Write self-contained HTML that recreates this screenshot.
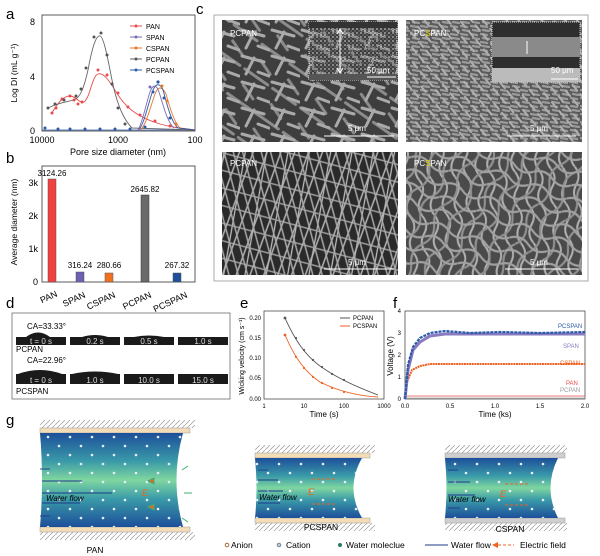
<!DOCTYPE html>
<html><head><meta charset="utf-8"><style>
html,body{margin:0;padding:0;background:#fff;width:600px;height:556px;overflow:hidden}
svg{display:block;font-family:"Liberation Sans",sans-serif}
</style></head><body>
<svg width="600" height="556" viewBox="0 0 600 556" xmlns="http://www.w3.org/2000/svg">
<defs>
<linearGradient id="ch" x1="0" y1="0" x2="0" y2="1">
<stop offset="0" stop-color="#1d4f9a"/><stop offset="0.3" stop-color="#3a9aa8"/><stop offset="0.5" stop-color="#7fd6a0"/><stop offset="0.7" stop-color="#3a9aa8"/><stop offset="1" stop-color="#1d4f9a"/></linearGradient>
<pattern id="hat" width="5" height="5" patternUnits="userSpaceOnUse"><path d="M0 5L5 0" stroke="#999" stroke-width="0.7"/></pattern>
<pattern id="dots" width="22" height="18" patternUnits="userSpaceOnUse"><circle cx="4" cy="5" r="1.3" fill="#e8eef8"/><circle cx="15" cy="14" r="1.3" fill="#e8eef8"/></pattern>
<pattern id="rods" width="30" height="26" patternUnits="userSpaceOnUse"><g stroke="#aaa" stroke-width="3" stroke-linecap="round"><path d="M2 4L24 10"/><path d="M6 22L14 6"/><path d="M18 20L29 24"/></g></pattern>
<pattern id="rods2" width="34" height="30" patternUnits="userSpaceOnUse" patternTransform="rotate(35)"><g stroke="#8c8c8c" stroke-width="3" stroke-linecap="round"><path d="M2 6L30 6"/><path d="M10 20L26 26"/></g></pattern>
<pattern id="short" width="10" height="8" patternUnits="userSpaceOnUse"><g stroke="#9a9a9a" stroke-width="2.4" stroke-linecap="round"><path d="M1 2L7 3"/><path d="M3 6L9 7"/></g></pattern>
<pattern id="short2" width="12" height="9" patternUnits="userSpaceOnUse" patternTransform="rotate(50)"><path d="M1 3L8 3" stroke="#b0b0b0" stroke-width="2" stroke-linecap="round"/></pattern>
<pattern id="ln1" width="200" height="9" patternUnits="userSpaceOnUse" patternTransform="rotate(75)"><path d="M0 3H200" stroke="#a8a8a8" stroke-width="1.6"/></pattern>
<pattern id="ln2" width="200" height="13" patternUnits="userSpaceOnUse" patternTransform="rotate(-70)"><path d="M0 4H200" stroke="#b4b4b4" stroke-width="1.5"/></pattern>
<pattern id="ln3" width="200" height="17" patternUnits="userSpaceOnUse" patternTransform="rotate(15)"><path d="M0 5H200" stroke="#9c9c9c" stroke-width="1.5"/></pattern>
<pattern id="ln4" width="200" height="21" patternUnits="userSpaceOnUse" patternTransform="rotate(100)"><path d="M0 5H200" stroke="#c0c0c0" stroke-width="1.3"/></pattern>
<pattern id="cv1" width="40" height="14" patternUnits="userSpaceOnUse" patternTransform="rotate(20)"><path d="M0 7 Q10 0 20 7 T40 7" fill="none" stroke="#a0a0a0" stroke-width="2.2"/></pattern>
<pattern id="cv2" width="46" height="16" patternUnits="userSpaceOnUse" patternTransform="rotate(-60)"><path d="M0 8 Q11 16 23 8 T46 8" fill="none" stroke="#909090" stroke-width="2.2"/></pattern>
<pattern id="cv3" width="36" height="12" patternUnits="userSpaceOnUse" patternTransform="rotate(85)"><path d="M0 6 Q9 0 18 6 T36 6" fill="none" stroke="#b0b0b0" stroke-width="2"/></pattern>
<pattern id="fine" width="4" height="4" patternUnits="userSpaceOnUse"><rect width="2" height="2" fill="#888"/><rect x="2" y="2" width="2" height="2" fill="#5a5a5a"/></pattern>
</defs>
<g font-size="11">
<text x="6" y="19" font-size="15">a</text>
<text x="6" y="163" font-size="15">b</text>
<text x="196" y="14" font-size="15">c</text>
<text x="6" y="308" font-size="15">d</text>
<text x="240" y="308" font-size="15">e</text>
<text x="393" y="308" font-size="15">f</text>
<text x="6" y="425" font-size="15">g</text>
</g>
<!-- panel a -->
<g font-size="8">
<rect x="42" y="15" width="153" height="116" fill="none" stroke="#333" stroke-width="0.8"/>
<text x="35" y="25" text-anchor="end" font-size="9">8</text><text x="35" y="80" text-anchor="end" font-size="9">4</text><text x="35" y="134" text-anchor="end" font-size="9">0</text>
<text x="42" y="143" text-anchor="middle" font-size="9">10000</text><text x="118" y="143" text-anchor="middle" font-size="9">1000</text><text x="195" y="143" text-anchor="middle" font-size="9">100</text>
<text x="118" y="155" text-anchor="middle" font-size="9">Pore size diameter (nm)</text>
<text transform="translate(17,73) rotate(-90)" text-anchor="middle" font-size="8.5">Log DI (mL g⁻¹)</text>
<path d="M42 130 L195 130" stroke="#3a5fb0" stroke-width="0.8"/>
<path d="M52 113 C58 102 64 96 70 96 C76 96 78 103 84 102 C90 98 92 76 98 74 C104 72 110 82 118 95 C128 110 140 118 160 124 C175 128 185 129 195 130" fill="none" stroke="#e74c4c" stroke-width="0.9"/>
<path d="M48 108 C58 103 66 102 74 100 C80 98 84 88 88 70 C92 48 96 35 100 36 C104 37 108 60 112 80 C116 100 122 118 132 128 L195 130" fill="none" stroke="#666" stroke-width="0.9"/>
<path d="M140 130 C146 126 150 108 155 94 C158 86 162 86 166 94 C170 108 174 122 180 128 L195 130" fill="none" stroke="#e8782a" stroke-width="0.9"/>
<path d="M138 130 C144 126 148 104 153 90 C156 83 160 83 163 90 C167 104 171 122 178 128 L195 130" fill="none" stroke="#2b5aa8" stroke-width="0.9"/>
<path d="M138 130 C142 124 146 104 150 92 C153 84 156 84 159 92 C163 104 167 122 174 128" fill="none" stroke="#7a6ab5" stroke-width="0.9"/>
<g fill="#e74c4c"><circle cx="52" cy="113" r="1.5"/><circle cx="56" cy="108" r="1.5"/><circle cx="62" cy="99" r="1.5"/><circle cx="70" cy="96" r="1.5"/><circle cx="74" cy="100" r="1.5"/><circle cx="78" cy="104" r="1.5"/><circle cx="82" cy="102" r="1.5"/><circle cx="98" cy="70" r="1.5"/><circle cx="107" cy="75" r="1.5"/><circle cx="118" cy="93" r="1.5"/><circle cx="128" cy="107" r="1.5"/><circle cx="140" cy="115" r="1.5"/><circle cx="155" cy="121" r="1.5"/><circle cx="170" cy="126" r="1.5"/></g>
<g fill="#555"><circle cx="48" cy="108" r="1.5"/><circle cx="55" cy="104" r="1.5"/><circle cx="64" cy="100" r="1.5"/><circle cx="76" cy="96" r="1.5"/><circle cx="81" cy="89" r="1.5"/><circle cx="86" cy="68" r="1.5"/><circle cx="94" cy="37" r="1.5"/><circle cx="101" cy="33" r="1.5"/><circle cx="107" cy="55" r="1.5"/><circle cx="112" cy="84" r="1.5"/><circle cx="118" cy="108" r="1.5"/><circle cx="125" cy="124" r="1.5"/></g>
<g fill="#2b5aa8"><circle cx="158" cy="82" r="1.6"/><circle cx="153" cy="92" r="1.5"/><circle cx="164" cy="98" r="1.5"/><circle cx="170" cy="118" r="1.5"/><circle cx="45" cy="128" r="1.5"/><circle cx="58" cy="129" r="1.5"/><circle cx="70" cy="129" r="1.5"/><circle cx="85" cy="129" r="1.5"/><circle cx="100" cy="129" r="1.5"/><circle cx="115" cy="129" r="1.5"/><circle cx="130" cy="129" r="1.5"/><circle cx="145" cy="127" r="1.5"/></g>
<g fill="#7a6ab5"><circle cx="150" cy="87" r="1.5"/></g><g fill="#e8782a"><circle cx="162" cy="86" r="1.5"/><circle cx="167" cy="101" r="1.5"/><circle cx="176" cy="124" r="1.5"/></g>
<g font-size="7"><line x1="130" y1="26" x2="142" y2="26" stroke="#e74c4c"/><circle cx="136" cy="26" r="1.5" fill="#e74c4c"/><text x="146" y="29">PAN</text>
<line x1="130" y1="37" x2="142" y2="37" stroke="#7a6ab5"/><circle cx="136" cy="37" r="1.5" fill="#7a6ab5"/><text x="146" y="40">SPAN</text>
<line x1="130" y1="48" x2="142" y2="48" stroke="#e8782a"/><circle cx="136" cy="48" r="1.5" fill="#e8782a"/><text x="146" y="51">CSPAN</text>
<line x1="130" y1="59" x2="142" y2="59" stroke="#666"/><circle cx="136" cy="59" r="1.5" fill="#555"/><text x="146" y="62">PCPAN</text>
<line x1="130" y1="70" x2="142" y2="70" stroke="#2b5aa8"/><circle cx="136" cy="70" r="1.5" fill="#2b5aa8"/><text x="146" y="73">PCSPAN</text></g>
</g>
<!-- panel b -->
<g font-size="8">
<rect x="42" y="166" width="153" height="116" fill="none" stroke="#333" stroke-width="0.8"/>
<text x="38" y="186" text-anchor="end" font-size="9">3k</text><text x="38" y="219" text-anchor="end" font-size="9">2k</text><text x="38" y="252" text-anchor="end" font-size="9">1k</text><text x="38" y="285" text-anchor="end" font-size="9">0</text>
<text transform="translate(17,222) rotate(-90)" text-anchor="middle" font-size="8.5">Average diameter (nm)</text>
<rect x="48" y="179" width="8" height="103" fill="#f04040" stroke="#555" stroke-width="0.5"/>
<rect x="76" y="272" width="8" height="10" fill="#6f5fb0" stroke="#555" stroke-width="0.5"/>
<rect x="105" y="273" width="8" height="9" fill="#f07020" stroke="#555" stroke-width="0.5"/>
<rect x="141" y="195" width="8" height="87" fill="#6a6a6a" stroke="#333" stroke-width="0.5"/>
<rect x="173" y="273" width="8" height="9" fill="#1d4f9a" stroke="#555" stroke-width="0.5"/>
<text x="52" y="176" text-anchor="middle">3124.26</text><text x="80" y="268" text-anchor="middle">316.24</text><text x="109" y="268" text-anchor="middle">280.66</text><text x="145" y="192" text-anchor="middle">2645.82</text><text x="177" y="268" text-anchor="middle">267.32</text>
<g font-size="9"><text transform="translate(58,296) rotate(-25)" text-anchor="end">PAN</text><text transform="translate(86,297) rotate(-25)" text-anchor="end">SPAN</text><text transform="translate(116,297) rotate(-25)" text-anchor="end">CSPAN</text><text transform="translate(152,297) rotate(-25)" text-anchor="end">PCPAN</text><text transform="translate(188,297) rotate(-25)" text-anchor="end">PCSPAN</text></g>
</g>
<!-- panel c -->
<rect x="214" y="15" width="374" height="266" fill="#fff" stroke="#aaa"/>
<rect x="222" y="20" width="176" height="122" fill="#3e3e3e"/>
<rect x="222" y="20" width="176" height="122" fill="url(#rods2)"/>
<rect x="222" y="20" width="176" height="122" fill="url(#rods)"/>
<rect x="406" y="20" width="176" height="122" fill="#5a5a5a"/>
<rect x="406" y="20" width="176" height="122" fill="url(#short)"/>
<rect x="406" y="20" width="176" height="122" fill="url(#short2)"/>
<rect x="222" y="152" width="176" height="123" fill="#2a2a2a"/>
<rect x="222" y="152" width="176" height="123" fill="url(#ln4)"/>
<rect x="222" y="152" width="176" height="123" fill="url(#ln3)"/>
<rect x="222" y="152" width="176" height="123" fill="url(#ln2)"/>
<rect x="222" y="152" width="176" height="123" fill="url(#ln1)"/>
<rect x="406" y="152" width="176" height="123" fill="#4a4a4a"/>
<rect x="406" y="152" width="176" height="123" fill="url(#cv3)"/>
<rect x="406" y="152" width="176" height="123" fill="url(#cv2)"/>
<rect x="406" y="152" width="176" height="123" fill="url(#cv1)"/>
<rect x="309" y="22" width="88" height="58" fill="url(#fine)" stroke="#ddd" stroke-dasharray="1 1"/>
<rect x="309" y="22" width="88" height="6" fill="#333"/><rect x="309" y="74" width="88" height="6" fill="#555"/>
<line x1="340" y1="30" x2="340" y2="72" stroke="#fff"/><path d="M337 34L340 29L343 34M337 68L340 73L343 68" fill="none" stroke="#fff"/>
<rect x="492" y="22" width="88" height="60" fill="#2e2e2e" stroke="#ddd" stroke-dasharray="1 1"/>
<rect x="492" y="37" width="88" height="20" fill="#8a8a8a"/><rect x="492" y="68" width="88" height="14" fill="#bbb"/>
<line x1="527" y1="41" x2="527" y2="54" stroke="#fff"/>
<g fill="#fff" font-size="8"><text x="230" y="36">PCPAN</text><text x="414" y="36">PC<tspan fill="#e8d000">S</tspan>PAN</text><text x="230" y="166">PCPAN</text><text x="414" y="166">PC<tspan fill="#e8d000">S</tspan>PAN</text>
<text x="367" y="73">50 μm</text><text x="551" y="73">50 μm</text>
<text x="348" y="131">5 μm</text><text x="530" y="131">5 μm</text><text x="348" y="265">5 μm</text><text x="530" y="265">5 μm</text></g>
<g stroke="#fff" stroke-width="1"><line x1="367" y1="77" x2="396" y2="77"/><line x1="551" y1="79" x2="578" y2="79"/><line x1="324" y1="136" x2="394" y2="136"/><line x1="507" y1="136" x2="576" y2="136"/><line x1="324" y1="269" x2="394" y2="269"/><line x1="505" y1="269" x2="578" y2="269"/></g>
<!-- panel d -->
<rect x="12" y="313" width="218" height="86" fill="#fff" stroke="#888"/>
<g font-size="8"><text x="27" y="329">CA=33.33°</text><text x="16" y="352">PCPAN</text><text x="27" y="363">CA=22.96°</text><text x="16" y="394">PCSPAN</text></g>
<g fill="#1a1a1a"><rect x="16" y="337" width="50" height="8"/><rect x="70" y="337" width="50" height="8"/><rect x="124" y="337" width="50" height="8"/><rect x="178" y="337" width="50" height="8"/>
<rect x="16" y="374" width="50" height="10"/><rect x="70" y="374" width="50" height="10"/><rect x="124" y="374" width="50" height="10"/><rect x="178" y="374" width="50" height="10"/>
<path d="M26 337 Q38 328 50 337Z"/><path d="M82 337 Q95 333 108 337Z"/><path d="M134 337 Q149 334 164 337Z"/><path d="M18 374 Q40 366 62 374Z"/><path d="M72 374 Q95 369 118 374Z"/></g>
<g fill="#ddd" font-size="8" text-anchor="middle"><text x="41" y="344">t = 0 s</text><text x="95" y="344">0.2 s</text><text x="149" y="344">0.5 s</text><text x="203" y="344">1.0 s</text><text x="41" y="383">t = 0 s</text><text x="95" y="383">1.0 s</text><text x="149" y="383">10.0 s</text><text x="203" y="383">15.0 s</text></g>
<!-- panel e -->
<g font-size="6">
<rect x="264" y="311" width="120" height="88" fill="none" stroke="#333" stroke-width="0.7"/>
<text x="261" y="320" text-anchor="end">0.20</text><text x="261" y="340" text-anchor="end">0.15</text><text x="261" y="360" text-anchor="end">0.10</text><text x="261" y="380" text-anchor="end">0.05</text><text x="261" y="401" text-anchor="end">0.00</text>
<text x="264" y="408" text-anchor="middle">1</text><text x="304" y="408" text-anchor="middle">10</text><text x="344" y="408" text-anchor="middle">100</text><text x="384" y="408" text-anchor="middle">1000</text>
<text x="324" y="417" text-anchor="middle" font-size="8">Time (s)</text>
<text transform="translate(244,356) rotate(-90)" text-anchor="middle" font-size="7">Wicking velocity (cm s⁻¹)</text>
<path d="M285 318 C295 340 305 355 320 366 C340 380 360 388 378 395" fill="none" stroke="#555" stroke-width="0.9" stroke-dasharray="0.1 0"/>
<path d="M285 335 C295 358 305 372 320 382 C340 392 360 396 378 397" fill="none" stroke="#f06020" stroke-width="0.9"/>
<g fill="#555"><circle cx="285" cy="318" r="1.4"/><circle cx="296" cy="338" r="1.1"/><circle cx="304" cy="350" r="1.1"/><circle cx="313" cy="360" r="1.1"/><circle cx="322" cy="367" r="1.1"/><circle cx="332" cy="374" r="1.1"/><circle cx="344" cy="380" r="1.1"/></g>
<g fill="#f06020"><circle cx="285" cy="335" r="1.4"/><circle cx="296" cy="357" r="1.1"/><circle cx="304" cy="368" r="1.1"/><circle cx="313" cy="377" r="1.1"/><circle cx="322" cy="383" r="1.1"/><circle cx="332" cy="388" r="1.1"/><circle cx="344" cy="392" r="1.1"/></g>
<line x1="340" y1="318" x2="350" y2="318" stroke="#555"/><text x="353" y="320">PCPAN</text>
<line x1="340" y1="326" x2="350" y2="326" stroke="#f06020"/><text x="353" y="328">PCSPAN</text>
</g>
<!-- panel f -->
<g font-size="6">
<rect x="405" y="311" width="180" height="88" fill="none" stroke="#333" stroke-width="0.7"/>
<text x="401" y="313" text-anchor="end">4</text><text x="401" y="335" text-anchor="end">3</text><text x="401" y="357" text-anchor="end">2</text><text x="401" y="379" text-anchor="end">1</text><text x="401" y="401" text-anchor="end">0</text>
<text x="405" y="408" text-anchor="middle">0.0</text><text x="450" y="408" text-anchor="middle">0.5</text><text x="495" y="408" text-anchor="middle">1.0</text><text x="540" y="408" text-anchor="middle">1.5</text><text x="585" y="408" text-anchor="middle">2.0</text>
<text x="495" y="417" text-anchor="middle" font-size="8">Time (ks)</text>
<text transform="translate(393,356) rotate(-90)" text-anchor="middle" font-size="8">Voltage (V)</text>
<path d="M405 398 L585 398" stroke="#bbb" stroke-width="1"/>
<path d="M405 396 L585 396" stroke="#e74c4c" stroke-width="0.8"/>
<path d="M405 399 L407 382 L412 370 L420 366 L430 364 L450 364 L480 364 L520 364 L560 364 L585 364" fill="none" stroke="#f06020" stroke-width="2" stroke-dasharray="2 0.6"/>
<path d="M405 399 L408 370 L413 350 L420 342 L430 336 L445 334 L470 334 L500 334 L540 334 L585 334" fill="none" stroke="#8a7ac0" stroke-width="3"/>
<path d="M405 399 L408 365 L413 347 L420 338 L430 333 L445 331 L470 333 L500 332 L540 333 L585 332" fill="none" stroke="#2b5aa8" stroke-width="2.2" stroke-dasharray="3 1"/>
<text x="558" y="328" fill="#2b5aa8">PCSPAN</text><text x="563" y="348" fill="#8a7ac0">SPAN</text><text x="560" y="365" fill="#f06020">CSPAN</text><text x="566" y="385" fill="#e74c4c">PAN</text><text x="560" y="392" fill="#999">PCPAN</text>
</g>
<!-- panel g: PAN -->
<rect x="40" y="420" width="155" height="8" fill="url(#hat)"/><rect x="40" y="532" width="155" height="8" fill="url(#hat)"/>
<rect x="40" y="428" width="150" height="5" fill="#f3dcb8" stroke="#999" stroke-width="0.5"/><rect x="40" y="527" width="150" height="5" fill="#f3dcb8" stroke="#999" stroke-width="0.5"/>
<path d="M40 433 L183 433 Q170 480 183 527 L40 527 Q44 480 40 433Z" fill="url(#ch)"/>
<path d="M40 433 L183 433 Q170 480 183 527 L40 527 Q44 480 40 433Z" fill="url(#dots)"/>
<g stroke="#1d3a8a" stroke-width="0.9"><line x1="40" y1="469" x2="50" y2="469"/><line x1="42" y1="481" x2="82" y2="481"/><line x1="42" y1="493" x2="112" y2="493"/><line x1="42" y1="503" x2="80" y2="503"/><line x1="40" y1="516" x2="50" y2="516"/></g>
<text x="46" y="501" font-size="8" font-style="italic">Water flow</text>
<text x="142" y="496" font-size="9" font-style="italic" fill="#f06020">E</text>
<path d="M148 481l6 -3v6z M148 507l6 -3v6z M182 470l6 -4 M184 493h8 M182 518l6 4" fill="#f06020" stroke="#3bb070"/>
<!-- PCSPAN -->
<rect x="255" y="445" width="120" height="8" fill="url(#hat)"/><rect x="255" y="523" width="120" height="8" fill="url(#hat)"/>
<rect x="255" y="453" width="115" height="5" fill="#f3dcb8" stroke="#999" stroke-width="0.5"/><rect x="255" y="518" width="115" height="5" fill="#f3dcb8" stroke="#999" stroke-width="0.5"/>
<path d="M255 458 L362 458 Q345 488 362 518 L255 518 Q258 488 255 458Z" fill="url(#ch)"/>
<path d="M255 458 L362 458 Q345 488 362 518 L255 518 Q258 488 255 458Z" fill="url(#dots)"/>
<g stroke="#1d3a8a" stroke-width="0.9"><line x1="258" y1="470" x2="268" y2="470"/><line x1="258" y1="480" x2="278" y2="480"/><line x1="258" y1="491" x2="283" y2="491"/><line x1="258" y1="503" x2="280" y2="503"/></g>
<text x="259" y="500" font-size="8" font-style="italic">Water flow</text>
<text x="308" y="495" font-size="9" font-style="italic" fill="#f06020">E</text>
<path d="M312 479h25 M312 504h25" stroke="#f06020" stroke-dasharray="3 2"/>
<!-- CSPAN -->
<rect x="445" y="445" width="122" height="8" fill="url(#hat)"/><rect x="445" y="523" width="122" height="8" fill="url(#hat)"/>
<rect x="445" y="453" width="120" height="5" fill="#cfcfcf" stroke="#999" stroke-width="0.5"/><rect x="445" y="518" width="120" height="5" fill="#cfcfcf" stroke="#999" stroke-width="0.5"/>
<path d="M445 458 L558 458 Q543 488 558 518 L445 518 Q448 488 445 458Z" fill="url(#ch)"/>
<path d="M445 458 L558 458 Q543 488 558 518 L445 518 Q448 488 445 458Z" fill="url(#dots)"/>
<g stroke="#1d3a8a" stroke-width="0.9"><line x1="448" y1="470" x2="458" y2="470"/><line x1="448" y1="482" x2="470" y2="482"/><line x1="448" y1="495" x2="475" y2="495"/><line x1="448" y1="508" x2="460" y2="508"/></g>
<text x="448" y="502" font-size="8" font-style="italic">Water flow</text>
<text x="500" y="497" font-size="9" font-style="italic" fill="#f06020">E</text>
<path d="M505 484h25 M505 505h25" stroke="#f06020" stroke-dasharray="3 2"/>
<g font-size="8.5">
<text x="95" y="553" text-anchor="middle">PAN</text><text x="321" y="530" text-anchor="middle">PCSPAN</text><text x="510" y="532" text-anchor="middle">CSPAN</text>
<circle cx="227" cy="545" r="1.8" fill="none" stroke="#a0703a"/><text x="231" y="548">Anion</text>
<circle cx="279" cy="545" r="1.8" fill="#bcd" stroke="#789"/><text x="286" y="548">Cation</text>
<circle cx="340" cy="545" r="2" fill="#2a7a6a"/><text x="346" y="548">Water moleclue</text>
<line x1="425" y1="545" x2="448" y2="545" stroke="#1d3a8a"/><text x="451" y="548">Water flow</text>
<path d="M492 545L498 542L498 548Z" fill="#f06020"/><line x1="498" y1="545" x2="514" y2="545" stroke="#f06020" stroke-dasharray="3 2"/><text x="520" y="548">Electric field</text>
</g>
</svg>
</body></html>
